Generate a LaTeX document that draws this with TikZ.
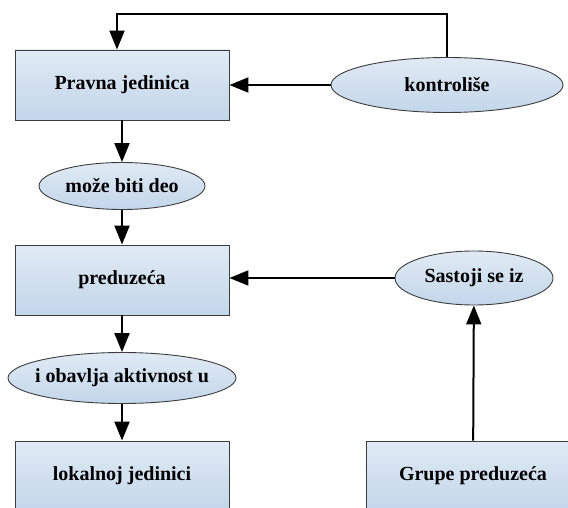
\documentclass[tikz,border=0pt]{standalone}
\usepackage{fontspec}
\setmainfont{Liberation Serif}[BoldFont={Liberation Serif Bold}]
\usetikzlibrary{shapes.geometric,arrows.meta}

\definecolor{boxtop}{HTML}{E0EAF5}
\definecolor{boxbot}{HTML}{C3D6EA}
\definecolor{rim}{HTML}{3C3C3C}

\tikzset{
  box/.style={draw=rim, line width=0.9pt, rectangle, minimum width=214pt,
    minimum height=70pt, top color=boxtop, bottom color=boxbot,
    font=\fontsize{20}{22}\selectfont\bfseries},
  oval/.style={draw=rim, line width=0.9pt, ellipse, inner xsep=-10pt, inner ysep=0pt,
    top color=boxtop, bottom color=boxbot,
    font=\fontsize{20}{22}\selectfont\bfseries},
  arr/.style={-{Triangle[length=19pt,width=15pt]}, line width=2pt},
}

\begin{document}
\begin{tikzpicture}[node distance=97pt, x=1pt, y=-1pt]
\useasboundingbox (0,0) rectangle (568,508);
\clip (0,0) rectangle (568,508);
%\node(top) at (0,0) {top};
\node[box](pravna) at (122,85) {Pravna jedinica};
\node[oval, minimum width=166pt, minimum height=47pt](moze) [below of=pravna, node distance=101pt] {može biti deo};
\node[box](preduzeca) [below of=moze, node distance=94pt] {preduzeća};
\node[oval, minimum width=228pt, minimum height=51pt](obavlja) [below of=preduzeca, node distance=98pt] {i obavlja aktivnost u};
\node[box](lokalna) [below of=obavlja, node distance=98pt] {lokalnoj jedinici};
\node[oval, minimum width=232pt, minimum height=55pt](kontrolise) [right of=pravna, node distance=325pt] {kontroliše};
\node[oval, minimum width=158pt, minimum height=54pt](sastoji) at (474,278) {Sastoji se iz};
\node[box](grupe) at (473,476) {Grupe preduzeća};
\coordinate (gore) at (117,14);

\draw[arr] (pravna) to (moze);
\draw[arr] (moze) to (preduzeca);
\draw[arr] (preduzeca) to (obavlja);
\draw[arr] (obavlja) to (lokalna);
\draw[arr] (kontrolise) to (pravna);
\draw[arr] (kontrolise.north) |- (gore) -- (gore |- pravna.north);
\draw[arr] (sastoji.west) -- (sastoji.west -| preduzeca.east);
\draw[arr] (grupe) to (sastoji);
\end{tikzpicture}
\end{document}
